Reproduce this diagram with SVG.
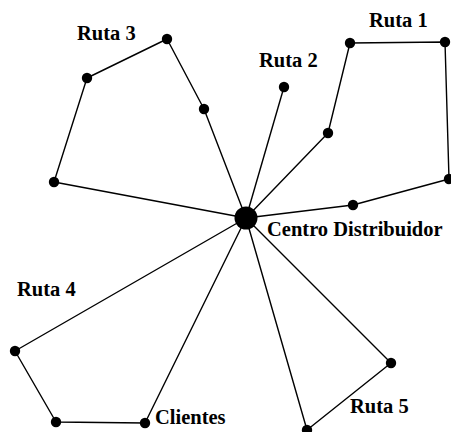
<svg xmlns="http://www.w3.org/2000/svg" width="451" height="432" viewBox="0 0 451 432">
<style>
.e{fill:none;stroke:#000;stroke-width:1.4;stroke-linejoin:round}
.n{fill:#000}
.t{font-family:"Liberation Serif","Times New Roman",serif;font-weight:bold;font-size:20.5px;fill:#000}
</style>
<rect width="451" height="432" fill="#fff"/>
<g id="connectors">
<polyline class="e" points="246,218 54,182 87,78 167,39 204,109 246,218"/>
<line class="e" x1="246" y1="218" x2="284" y2="87"/>
<polyline class="e" points="246,218 328,133 350,43 445,42 449,179 353,205 246,218"/>
<polyline class="e" points="246,218 15,351 56,422 145,423 246,218"/>
<polyline class="e" points="246,218 391,363 307,430 246,218"/>
</g>
<g id="centro"><circle class="n" cx="246" cy="218" r="11.5"/><text class="t" x="267" y="236">Centro Distribuidor</text></g>
<g id="r3a"><circle class="n" cx="54" cy="182" r="5.2"/></g>
<g id="r3b"><circle class="n" cx="87" cy="78" r="5.2"/></g>
<g id="r3c"><circle class="n" cx="167" cy="39" r="5.2"/></g>
<g id="r3d"><circle class="n" cx="204" cy="109" r="5.2"/></g>
<g id="r2a"><circle class="n" cx="284" cy="87" r="5.2"/></g>
<g id="r1a"><circle class="n" cx="328" cy="133" r="5.2"/></g>
<g id="r1b"><circle class="n" cx="350" cy="43" r="5.2"/></g>
<g id="r1c"><circle class="n" cx="445" cy="42" r="5.2"/></g>
<g id="r1d"><circle class="n" cx="449" cy="179" r="5.2"/></g>
<g id="r1e"><circle class="n" cx="353" cy="205" r="5.2"/></g>
<g id="r4a"><circle class="n" cx="15" cy="351" r="5.2"/></g>
<g id="r4b"><circle class="n" cx="56" cy="422" r="5.2"/></g>
<g id="r4c"><circle class="n" cx="145" cy="423" r="5.2"/><text class="t" x="155" y="424">Clientes</text></g>
<g id="r5a"><circle class="n" cx="391" cy="363" r="5.2"/></g>
<g id="r5b"><circle class="n" cx="307" cy="430" r="5.2"/></g>
<g id="labels">
<text class="t" x="77" y="40">Ruta 3</text>
<text class="t" x="259" y="67">Ruta 2</text>
<text class="t" x="369" y="27">Ruta 1</text>
<text class="t" x="17" y="296">Ruta 4</text>
<text class="t" x="350" y="413">Ruta 5</text>
</g>
</svg>
